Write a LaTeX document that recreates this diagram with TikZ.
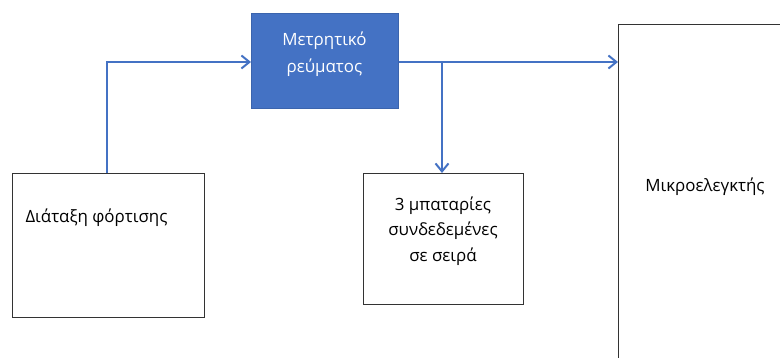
\documentclass[tikz,border=0pt]{standalone}
\usepackage{fontspec}
\setmainfont{Open Sans}
\usetikzlibrary{arrows.meta}
\definecolor{officeblue}{HTML}{4472C4}
\definecolor{officeborder}{HTML}{3B64AD}
\tikzset{
  plainbox/.style={draw=black!80, line width=1pt, fill=white, inner sep=0pt},
  bluebox/.style={draw=officeborder, line width=1pt, fill=officeblue, inner sep=0pt},
  conn/.style={draw=officeblue, line width=2pt},
  arr/.style={conn, -{Straight Barb[length=8pt, width=13pt, line width=2pt]}},
  lbl/.style={font=\fontsize{16.9}{26.5}\selectfont, align=center}
}
\begin{document}
\begin{tikzpicture}[x=1pt, y=-1pt]
\useasboundingbox (0,0) rectangle (780,358);
\clip (0,0) rectangle (780,358);
% boxes
\node[plainbox, minimum width=192pt, minimum height=144pt, anchor=north west] (charge) at (12,173) {};
\node[lbl, anchor=west] at (22,218) {Διάταξη φόρτισης};
\node[bluebox, minimum width=147pt, minimum height=95pt, anchor=north west] (meter) at (251,13) {};
\node[lbl, text=white] at (324.5,54) {Μετρητικό\\ρεύματος};
\node[plainbox, minimum width=160pt, minimum height=131pt, anchor=north west] (batt) at (363,173) {};
\node[lbl, font=\fontsize{16.9}{25.5}\selectfont] at (443,231) {3 μπαταρίες\\συνδεδεμένες\\σε σειρά};
\node[plainbox, minimum width=180pt, minimum height=360pt, anchor=north west] (mcu) at (618,24) {};
\node[lbl] at (705,187) {Μικροελεγκτής};
% connectors
\coordinate (up) at (107,62);
\coordinate (br) at (442,62);
\draw[arr] (charge.north -| up) -- (up) -- (meter.west |- up);
\draw[arr] (meter.east |- up) -- (mcu.west |- up);
\draw[arr] (br) -- (batt.north -| br);
\end{tikzpicture}
\end{document}
